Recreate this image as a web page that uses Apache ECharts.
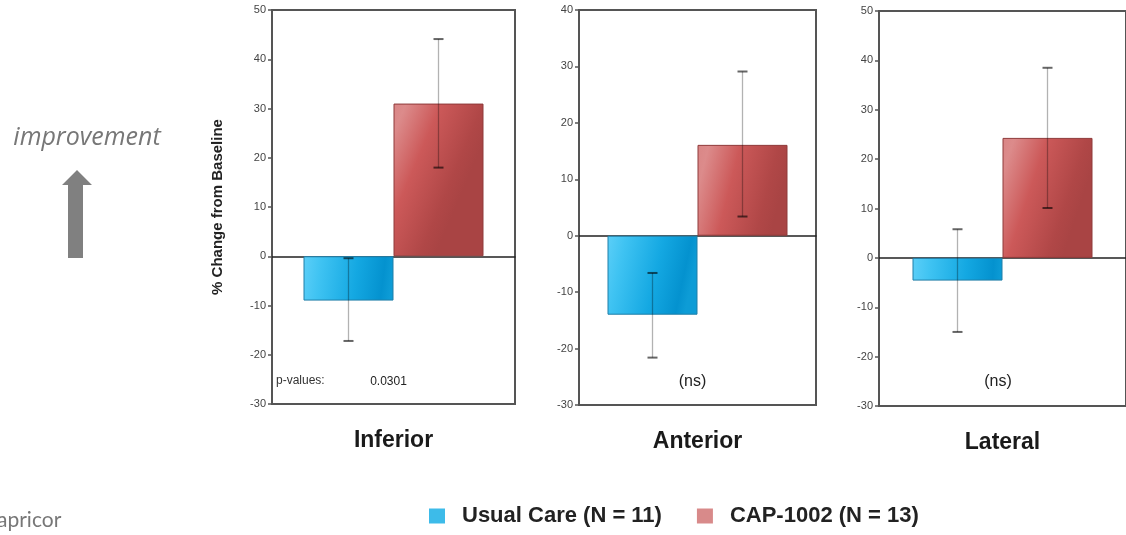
<!DOCTYPE html>
<html><head><meta charset="utf-8">
<script src="https://cdn.jsdelivr.net/npm/echarts@6/dist/echarts.min.js"></script>
<style>html,body{margin:0;padding:0;background:#fff}#c{width:1126px;height:535px}</style>
</head><body><div id="c"></div>
<script>
// ---- data ----
const regions = ['Inferior', 'Anterior', 'Lateral'];
const seriesNames = ['Usual Care (N = 11)', 'CAP-1002 (N = 13)'];
const usualMean = [-9.0, -14.0, -4.6];
const usualLow  = [-17.2, -21.6, -15.0];
const usualHigh = [-0.4, -6.6, 5.8];
const capMean = [31.0, 16.1, 24.3];
const capLow  = [18.0, 3.4, 10.1];
const capHigh = [44.1, 29.1, 38.5];
const yMin = [-30, -30, -30];
const yMax = [50, 40, 50];
const yInterval = 10;
const yAxisTitle = '% Change from Baseline';
const pTitle = 'p-values:';
const pValues = ['0.0301', '(ns)', '(ns)'];

// ---- layout / style ----
const FONT = "'Liberation Sans', Arial, sans-serif";
const grids = [
  {left: 272, top: 10, width: 243, height: 394},
  {left: 579, top: 10, width: 237, height: 395},
  {left: 879, top: 11, width: 248, height: 395}
];
const BAR_W = 90, CAP_W = 10;
const blueFill = new echarts.graphic.LinearGradient(0, 0, 1, 0.25, [
  {offset: 0, color: '#5ccff8'}, {offset: 0.2, color: '#3fc3f2'},
  {offset: 0.6, color: '#14a8e2'}, {offset: 0.9, color: '#0492cf'}, {offset: 1, color: '#0d9cd6'}]);
const redFill = new echarts.graphic.LinearGradient(0, 0, 1, 0.25, [
  {offset: 0, color: '#d98686'}, {offset: 0.12, color: '#dc8b8b'},
  {offset: 0.45, color: '#cc5959'}, {offset: 0.85, color: '#b04747'}, {offset: 1, color: '#a94444'}]);

const chart = echarts.init(document.getElementById('c'), null, {renderer: 'canvas'});

const xAxes = [], yAxes = [], series = [], graphics = [];
grids.forEach((g, i) => {
  xAxes.push({
    type: 'category', gridIndex: i, data: [regions[i]],
    axisLine: {show: true, onZero: true, lineStyle: {color: '#222', width: 1.5}},
    axisTick: {show: false}, axisLabel: {show: false}, splitLine: {show: false}
  });
  yAxes.push({
    type: 'value', gridIndex: i, min: yMin[i], max: yMax[i], interval: yInterval,
    name: i === 0 ? yAxisTitle : '', nameLocation: 'middle', nameGap: 47,
    nameTextStyle: {fontSize: 15, fontWeight: 'bold', color: '#222', fontFamily: FONT},
    axisLine: {show: true, lineStyle: {color: '#555', width: 2}},
    axisTick: {show: true, length: 4, lineStyle: {color: '#555', width: 1.5}},
    axisLabel: {fontSize: 11, color: '#444', margin: 6, fontFamily: FONT},
    splitLine: {show: false}
  });
  series.push({
    name: seriesNames[0], type: 'bar', xAxisIndex: i, yAxisIndex: i,
    data: [usualMean[i]], barWidth: BAR_W, barGap: '0%',
    itemStyle: {color: blueFill, borderColor: '#1f7ea8', borderWidth: 1}
  });
  series.push({
    name: seriesNames[1], type: 'bar', xAxisIndex: i, yAxisIndex: i,
    data: [capMean[i]], barWidth: BAR_W, barGap: '0%',
    itemStyle: {color: redFill, borderColor: '#8f3a3a', borderWidth: 1}
  });
  series.push({
    type: 'custom', xAxisIndex: i, yAxisIndex: i, z: 5,
    encode: {x: 0, y: [1, 2]},
    data: [[0, usualLow[i], usualHigh[i], -1], [0, capLow[i], capHigh[i], 1]],
    renderItem: function (params, api) {
      const side = api.value(3);
      const lo = api.coord([api.value(0), api.value(1)]);
      const hi = api.coord([api.value(0), api.value(2)]);
      const x = lo[0] + side * BAR_W / 2;
      return {type: 'group', children: [
        {type: 'line', shape: {x1: x, y1: hi[1], x2: x, y2: lo[1]}, style: {stroke: 'rgba(0,0,0,0.3)', lineWidth: 1.3}},
        {type: 'line', shape: {x1: x - CAP_W / 2, y1: hi[1], x2: x + CAP_W / 2, y2: hi[1]}, style: {stroke: 'rgba(0,0,0,0.6)', lineWidth: 2}},
        {type: 'line', shape: {x1: x - CAP_W / 2, y1: lo[1], x2: x + CAP_W / 2, y2: lo[1]}, style: {stroke: 'rgba(0,0,0,0.6)', lineWidth: 2}}
      ]};
    }
  });
});
// category label axes at the bottom of each panel
grids.forEach((g, i) => {
  xAxes.push({
    type: 'category', gridIndex: i, data: [regions[i]], position: 'bottom',
    axisLine: {show: false, onZero: false}, axisTick: {show: false}, splitLine: {show: false},
    axisLabel: {fontSize: 23, fontWeight: 'bold', color: '#1a1a1a', margin: 25, fontFamily: FONT}
  });
});

// p-value annotations
graphics.push({type: 'text', left: 276, top: 375, style: {text: pTitle, fontSize: 12, fill: '#333', fontFamily: FONT}});
grids.forEach((g, i) => {
  const isNs = pValues[i] === '(ns)';
  graphics.push({type: 'text', x: g.left + g.width / 2 - 5, y: 382,
    style: {text: pValues[i], fontSize: isNs ? 16 : 12, fill: '#222', fontFamily: FONT, align: 'center', verticalAlign: 'middle'}});
});
// improvement indicator
graphics.push({type: 'text', x: 87, y: 138, style: {text: 'improvement', fontSize: 25, fontStyle: 'italic', fill: '#777', fontFamily: "'Open Sans', sans-serif", align: 'center', verticalAlign: 'middle'}});
graphics.push({type: 'polygon', shape: {points: [[77, 170], [92, 185], [83, 185], [83, 258], [68, 258], [68, 185], [62, 185]]}, style: {fill: '#808080'}});
// logo text
graphics.push({type: 'text', x: -3, y: 520, style: {text: 'apricor', fontSize: 21, fill: '#777', fontFamily: "'Lato', sans-serif", verticalAlign: 'middle', letterSpacing: 1.5}});

chart.setOption({
  animation: false,
  backgroundColor: '#fff',
  grid: grids.map(g => Object.assign({show: true, borderColor: '#555', borderWidth: 2, backgroundColor: 'transparent'}, g)),
  xAxis: xAxes,
  yAxis: yAxes,
  legend: {
    data: [
      {name: seriesNames[0], itemStyle: {color: '#3dbbe9', borderWidth: 0}},
      {name: seriesNames[1], itemStyle: {color: '#d88a8a', borderWidth: 0}}
    ],
    left: 424, top: 500, icon: 'rect', itemWidth: 16, itemHeight: 15, itemGap: 35,
    textStyle: {fontSize: 22, fontWeight: 'bold', color: '#222', fontFamily: FONT, padding: [0, 0, 0, 12]}
  },
  series: series,
  graphic: graphics
});
</script></body></html>
